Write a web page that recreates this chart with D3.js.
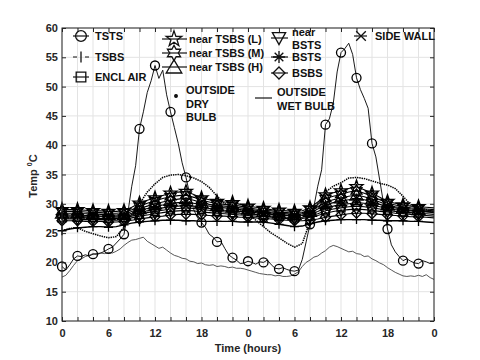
<!DOCTYPE html>
<head>
  <meta charset="utf-8">
  <style>
    body { margin: 0; background: #fff; }
    text { font-family: "Liberation Sans", Arial, sans-serif; font-weight: bold; }
  </style>
  <script src="https://cdn.jsdelivr.net/npm/d3@7/dist/d3.min.js"></script>
</head>
<body>
<script>

// time axis: 0..48 h, tick labels show the hour of day
const xTicks = d3.range(0, 49, 2);
const xLabelled = [0, 6, 12, 18, 24, 30, 36, 42, 48];
const yTicks = [10, 15, 20, 25, 30, 35, 40, 45, 50, 55, 60];

// half-hourly series (0, 0.5, ... 48 h)
const tHalf = d3.range(0, 48.01, 0.5);
const tsts = [19.3, 18.7, 19.6, 20.6, 21.1, 21.0, 21.3, 21.1, 21.4, 21.5, 21.6, 21.9,
  22.3, 22.6, 23.3, 24.0, 24.8, 28.5, 33.0, 36.5, 42.8, 45.7, 49.0, 51.0,
  53.6, 51.4, 52.8, 48.6, 45.7, 43.0, 40.3, 37.0, 34.5, 31.5, 29.0, 27.6,
  26.8, 26.0, 24.8, 24.3, 23.5, 23.6, 22.4, 21.3, 20.8, 20.4, 19.8, 19.9,
  20.2, 20.0, 19.7, 20.1, 20.0, 20.4, 19.6, 19.0, 18.9, 19.1, 18.8, 18.6,
  18.5, 18.7, 20.5, 23.5, 26.5, 29.5, 33.0, 35.8, 43.5, 44.5, 47.1, 52.5,
  55.8, 56.5, 57.4, 55.5, 51.5, 49.5, 48.0, 46.3, 40.3, 38.0, 34.0, 30.0,
  25.7, 23.0, 21.8, 21.0, 20.3, 20.6, 20.2, 19.9, 19.8, 20.3, 20.1, 19.8, 19.9];
const wetBulb = [17.5, 17.8, 18.6, 19.5, 20.3, 20.6, 21.0, 21.2, 21.5, 21.3, 21.6, 21.5,
  21.7, 21.6, 21.9, 22.3, 22.9, 23.4, 23.8, 23.9, 24.1, 24.3, 23.6, 23.2,
  22.8, 22.4, 22.6, 22.1, 21.6, 21.2, 21.0, 20.7, 20.6, 20.2, 20.1, 19.8,
  19.9, 19.6, 19.5, 19.6, 19.3, 19.4, 19.3, 19.1, 19.2, 19.0, 19.0, 18.9,
  18.7, 18.5, 18.3, 18.1, 18.0, 17.9, 17.9, 17.7, 17.8, 17.6, 17.6, 17.7,
  18.0, 18.4, 19.3, 20.0, 20.4, 20.9, 21.1, 21.6, 22.0, 22.6, 22.9, 22.7,
  22.4, 22.1, 21.8, 21.9, 21.5, 21.4, 21.0, 21.1, 20.6, 20.3, 19.9, 19.6,
  19.1, 18.7, 18.3, 18.0, 17.7, 17.6, 17.7, 17.6, 17.8, 17.6, 17.9, 17.4, 17.1];

// hourly series (0, 1, ... 48 h)
const tHour = d3.range(0, 49, 1);
const dryBulb = [25.4, 25.8, 25.9, 25.3, 24.9, 24.5, 24.2, 24.4, 26.0, 28.2, 30.0, 32.0,
  33.4, 34.5, 34.9, 35.0, 34.8, 34.4, 33.8, 32.8, 31.3, 30.0, 29.5, 29.0,
  28.5, 27.2, 26.1, 25.0, 24.2, 23.3, 22.6, 23.2, 27.0, 30.0, 32.0, 33.0,
  33.6, 34.4, 34.5, 34.3, 33.9, 33.5, 33.2, 32.6, 31.3, 29.8, 29.3, 29.0, 28.6];
const tsbs = [25.4, 25.7, 25.9, 26.0, 26.1, 26.1, 26.0, 26.1, 26.4, 26.7, 26.9, 27.0,
  27.1, 27.2, 27.2, 27.2, 27.1, 27.1, 27.0, 27.0, 27.0, 27.0, 27.0, 26.9,
  26.9, 26.9, 26.9, 26.7, 26.5, 26.3, 26.1, 26.2, 26.6, 26.9, 27.1, 27.2,
  27.3, 27.3, 27.3, 27.3, 27.2, 27.2, 27.1, 27.1, 27.1, 27.0, 27.0, 26.9, 26.8];
const nearTsbsL = [29.0, 29.0, 29.0, 28.9, 28.8, 28.8, 28.7, 28.7, 28.8, 29.4, 30.1, 30.6,
  31.0, 31.4, 31.8, 32.0, 32.1, 31.6, 31.0, 30.7, 30.4, 30.3, 30.2, 29.9,
  29.6, 29.4, 29.2, 29.0, 28.9, 28.8, 28.7, 28.8, 29.3, 30.3, 31.5, 31.9,
  32.2, 32.6, 32.9, 32.4, 31.8, 31.1, 30.4, 30.1, 29.8, 29.6, 29.5, 29.4, 29.3];
const nearTsbsM = [28.7, 28.7, 28.7, 28.6, 28.5, 28.5, 28.4, 28.4, 28.5, 29.0, 29.6, 30.1,
  30.5, 30.9, 31.2, 31.4, 31.5, 31.1, 30.6, 30.3, 30.0, 29.9, 29.8, 29.6,
  29.3, 29.1, 28.9, 28.8, 28.6, 28.5, 28.4, 28.5, 29.0, 29.9, 30.9, 31.3,
  31.6, 32.0, 32.2, 31.8, 31.3, 30.7, 30.1, 29.8, 29.5, 29.3, 29.2, 29.1, 29.0];
const nearTsbsH = [28.4, 28.4, 28.4, 28.3, 28.3, 28.2, 28.2, 28.1, 28.2, 28.7, 29.2, 29.6,
  30.0, 30.3, 30.6, 30.8, 30.9, 30.6, 30.2, 29.9, 29.7, 29.6, 29.5, 29.3,
  29.1, 28.9, 28.7, 28.5, 28.4, 28.3, 28.2, 28.3, 28.7, 29.5, 30.3, 30.7,
  31.0, 31.3, 31.5, 31.2, 30.8, 30.3, 29.8, 29.5, 29.3, 29.1, 29.0, 28.9, 28.8];
const bsts = [28.1, 28.1, 28.1, 28.0, 28.0, 27.9, 27.9, 27.9, 28.0, 28.4, 28.9, 29.2,
  29.5, 29.8, 30.1, 30.2, 30.3, 30.1, 29.8, 29.6, 29.4, 29.3, 29.2, 29.0,
  28.9, 28.7, 28.5, 28.3, 28.2, 28.1, 28.0, 28.1, 28.4, 29.1, 29.8, 30.2,
  30.5, 30.7, 30.9, 30.7, 30.3, 29.9, 29.5, 29.3, 29.1, 28.9, 28.8, 28.7, 28.6];
const sideWall = [27.9, 27.9, 27.9, 27.8, 27.8, 27.8, 27.7, 27.7, 27.8, 28.1, 28.5, 28.8,
  29.0, 29.3, 29.5, 29.6, 29.7, 29.6, 29.4, 29.2, 29.0, 28.9, 28.8, 28.7,
  28.6, 28.5, 28.3, 28.2, 28.1, 28.0, 27.9, 28.0, 28.2, 28.7, 29.3, 29.6,
  29.8, 30.0, 30.2, 30.1, 29.8, 29.5, 29.2, 29.0, 28.9, 28.8, 28.7, 28.6, 28.5];
const enclAir = [27.6, 27.6, 27.7, 27.6, 27.6, 27.5, 27.5, 27.5, 27.6, 27.9, 28.2, 28.5,
  28.7, 28.9, 29.1, 29.2, 29.3, 29.2, 29.0, 28.9, 28.7, 28.6, 28.5, 28.4,
  28.3, 28.2, 28.0, 27.9, 27.8, 27.7, 27.6, 27.7, 27.9, 28.3, 28.8, 29.1,
  29.3, 29.5, 29.6, 29.5, 29.3, 29.1, 28.9, 28.7, 28.6, 28.5, 28.4, 28.3, 28.2];
const nearBsts = [27.4, 27.4, 27.4, 27.3, 27.3, 27.3, 27.2, 27.2, 27.3, 27.6, 27.9, 28.1,
  28.3, 28.5, 28.7, 28.8, 28.9, 28.8, 28.6, 28.5, 28.4, 28.3, 28.2, 28.1,
  28.0, 27.9, 27.8, 27.7, 27.6, 27.5, 27.4, 27.5, 27.7, 28.0, 28.4, 28.7,
  28.9, 29.0, 29.1, 29.0, 28.9, 28.7, 28.6, 28.4, 28.3, 28.2, 28.1, 28.0, 27.9];
const bsbs = [27.1, 27.1, 27.1, 27.0, 27.0, 27.0, 26.9, 26.9, 27.0, 27.2, 27.4, 27.6,
  27.8, 27.9, 28.1, 28.2, 28.2, 28.2, 28.1, 28.0, 27.9, 27.9, 27.8, 27.7,
  27.7, 27.6, 27.5, 27.4, 27.3, 27.2, 27.1, 27.1, 27.2, 27.4, 27.7, 27.9,
  28.1, 28.3, 28.4, 28.4, 28.3, 28.2, 28.1, 28.0, 27.9, 27.8, 27.8, 27.7, 27.6];

// marker shapes
const poly = pts => 'M' + pts.map(p => p.join(',')).join('L') + 'Z';
const starPts = (n, r1, r2) => d3.range(n * 2).map(i => {
  const a = Math.PI * i / n - Math.PI / 2, r = i % 2 ? r2 : r1;
  return [(r * Math.cos(a)).toFixed(2), (r * Math.sin(a)).toFixed(2)];
});
const shapes = {
  circle: 'M4.5,0A4.5,4.5 0 1,1 -4.5,0A4.5,4.5 0 1,1 4.5,0Z',
  pentagram: poly(starPts(5, 6.8, 2.7)),
  hexagram: poly(starPts(6, 6.3, 3.6)),
  triUp: poly([[0, -6], [6.5, 5], [-6.5, 5]]),
  triDown: poly([[-5.5, -4.5], [5.5, -4.5], [0, 5.5]]),
  asterisk: 'M0,-5L0,5M-5,0L5,0M-3.6,-3.6L3.6,3.6M-3.6,3.6L3.6,-3.6',
  diamond: poly([[0, -5], [5, 0], [0, 5], [-5, 0]]),
  cross: 'M-4,-4L4,4M-4,4L4,-4',
  square: poly([[-4, -4], [4, -4], [4, 4], [-4, 4]]),
  plus: 'M0,-4.5L0,4.5M-4.5,0L4.5,0',
  bar: 'M0,-4.5L0,4.5',
  dot: 'M1.4,0A1.4,1.4 0 1,1 -1.4,0A1.4,1.4 0 1,1 1.4,0Z'
};

const series = [
  { t: tHour, v: bsbs, m: 'diamond' },
  { t: tHour, v: nearBsts, m: 'triDown' },
  { t: tHour, v: enclAir, m: 'square' },
  { t: tHour, v: sideWall, m: 'cross' },
  { t: tHour, v: bsts, m: 'asterisk' },
  { t: tHour, v: nearTsbsH, m: 'triUp' },
  { t: tHour, v: nearTsbsM, m: 'hexagram' },
  { t: tHour, v: nearTsbsL, m: 'pentagram' },
  { t: tHour, v: tsbs, m: 'plus', width: 1.4 },
  { t: tHour, v: dryBulb, m: null, dash: '1.4,0.9', width: 1.5 },
  { t: tHalf, v: wetBulb, m: null, color: '#444', width: 0.9 },
  { t: tHalf, v: tsts, m: 'circle', width: 0.9 }
];

const W = 480, H = 360;
const svg = d3.select('body').append('svg').attr('width', W).attr('height', H);

const x = d3.scaleLinear().domain([0, 48]).range([62, 434]);
const y = d3.scaleLinear().domain([10, 60]).range([321, 28]);

// grid
svg.append('g').selectAll('line').data(xTicks).join('line')
  .attr('x1', d => x(d)).attr('x2', d => x(d)).attr('y1', y(10)).attr('y2', y(60))
  .attr('stroke', '#e3e3e3').attr('stroke-width', 1);
svg.append('g').selectAll('line').data(yTicks).join('line')
  .attr('x1', x(0)).attr('x2', x(48)).attr('y1', d => y(d)).attr('y2', d => y(d))
  .attr('stroke', '#e3e3e3').attr('stroke-width', 1);

// lines + markers
const line = d3.line();
series.forEach(s => {
  const pts = s.t.map((t, i) => [x(t), y(s.v[i])]);
  svg.append('path').attr('d', line(pts))
    .attr('fill', 'none')
    .attr('stroke', s.color || '#000')
    .attr('stroke-width', s.width || 1.1)
    .attr('stroke-dasharray', s.dash || null);
  if (s.m) {
    const marks = s.t.map((t, i) => [t, s.v[i]]).filter(d => d[0] % 2 === 0 && d[0] < 48);
    svg.append('g').selectAll('path').data(marks).join('path')
      .attr('d', shapes[s.m])
      .attr('transform', d => `translate(${x(d[0])},${y(d[1])})`)
      .attr('fill', 'none').attr('stroke', '#000').attr('stroke-width', 1.3);
  }
});

// axes
const fmtX = d => xLabelled.includes(d) ? String(d % 24) : '';
const axStyle = g => {
  g.select('.domain').remove();
  g.selectAll('line').attr('stroke', '#262626');
  g.selectAll('text').attr('font-size', 11).attr('fill', '#262626')
    .attr('font-family', '"Liberation Sans", Arial, sans-serif').attr('font-weight', 'bold');
};
svg.append('g').attr('transform', `translate(0,${y(10)})`)
  .call(d3.axisBottom(x).tickValues(xTicks).tickSize(-4).tickPadding(8).tickFormat(fmtX))
  .call(axStyle);
svg.append('g').attr('transform', `translate(0,${y(60)})`)
  .call(d3.axisTop(x).tickValues(xTicks).tickSize(-4).tickFormat(''))
  .call(axStyle);
svg.append('g').attr('transform', `translate(${x(0)},0)`)
  .call(d3.axisLeft(y).tickValues(yTicks).tickSize(-4).tickPadding(4))
  .call(axStyle);
svg.append('g').attr('transform', `translate(${x(48)},0)`)
  .call(d3.axisRight(y).tickValues(yTicks).tickSize(-4).tickFormat(''))
  .call(axStyle);
svg.append('rect').attr('x', x(0)).attr('y', y(60))
  .attr('width', x(48) - x(0)).attr('height', y(10) - y(60))
  .attr('fill', 'none').attr('stroke', '#262626').attr('stroke-width', 1);

// axis titles
svg.append('text').attr('x', (x(0) + x(48)) / 2).attr('y', 352)
  .attr('text-anchor', 'middle').attr('font-size', 11).attr('fill', '#262626')
  .text('Time (hours)');
const yl = svg.append('text').attr('transform', 'translate(37,176) rotate(-90)')
  .attr('text-anchor', 'middle').attr('font-size', 11).attr('fill', '#262626');
yl.append('tspan').text('Temp ');
yl.append('tspan').attr('font-size', 7).attr('dy', -5).text('0');
yl.append('tspan').attr('dy', 5).text('C');

// legend (no box, transparent)
const legend = [
  { sx: 81, sy: 36, l: [73, 89], m: 'circle', tx: 95, lines: [[36, 'TSTS']] },
  { sx: 81, sy: 57, l: [73, 89], m: 'bar', dash: '4,8', tx: 95, lines: [[57, 'TSBS']] },
  { sx: 81, sy: 77, l: [73, 89], m: 'square', tx: 95, lines: [[77, 'ENCL AIR']] },
  { sx: 174, sy: 39, l: [162, 187], m: 'pentagram', tx: 189, lines: [[39, 'near TSBS (L)']] },
  { sx: 174, sy: 53, l: [162, 187], m: 'hexagram', tx: 189, lines: [[53, 'near TSBS (M)']] },
  { sx: 174, sy: 67, l: [162, 187], m: 'triUp', tx: 189, lines: [[67, 'near TSBS (H)']] },
  { sx: 176, sy: 96, l: null, m: 'dot', tx: 186, lines: [[90, 'OUTSIDE'], [104, 'DRY'], [117, 'BULB']] },
  { sx: 279, sy: 38, l: [271, 288], m: 'triDown', tx: 292, lines: [[32, 'near'], [45, 'BSTS']] },
  { sx: 279, sy: 57, l: [271, 288], m: 'asterisk', tx: 292, lines: [[57, 'BSTS']] },
  { sx: 279, sy: 73, l: [271, 288], m: 'diamond', tx: 292, lines: [[73, 'BSBS']] },
  { sx: 263, sy: 98, l: [255, 272], m: null, tx: 277, lines: [[92, 'OUTSIDE'], [106, 'WET BULB']] },
  { sx: 361, sy: 36, l: [354, 367], m: 'cross', tx: 375, lines: [[36, 'SIDE WALL']] }
];
const lg = svg.append('g');
legend.forEach(e => {
  if (e.l) lg.append('line').attr('x1', e.l[0]).attr('x2', e.l[1]).attr('y1', e.sy).attr('y2', e.sy)
    .attr('stroke', '#111').attr('stroke-width', 1.2).attr('stroke-dasharray', e.dash || null);
  if (e.m) lg.append('path').attr('d', shapes[e.m])
    .attr('transform', `translate(${e.sx},${e.sy}) scale(${e.m === 'dot' ? 1 : 1.2})`)
    .attr('fill', e.m === 'dot' ? '#111' : 'none').attr('stroke', '#111').attr('stroke-width', 1.1);
  e.lines.forEach(([ty, txt]) => {
    lg.append('text').attr('x', e.tx).attr('y', ty).attr('dy', '0.36em')
      .attr('font-size', 11).attr('fill', '#111').text(txt);
  });
});

</script>
</body>
